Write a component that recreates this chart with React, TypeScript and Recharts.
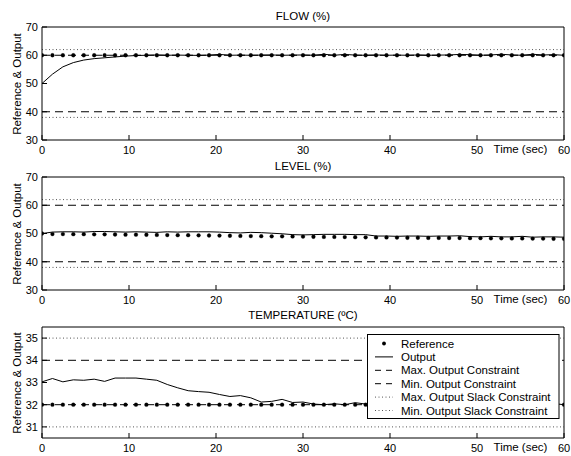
import React from 'react';
import { LineChart, Line, XAxis, YAxis, ReferenceLine, Legend } from 'recharts';

const FONT = '"Liberation Sans", Arial, Helvetica, sans-serif';

// sample times (sec)
const time = [
  0, 1.2, 2.4, 3.6, 4.8, 6, 7.2, 8.4, 9.6, 10.8,
  12, 13.2, 14.4, 15.6, 16.8, 18, 19.2, 20.4, 21.6, 22.8,
  24, 25.2, 26.4, 27.6, 28.8, 30, 31.2, 32.4, 33.6, 34.8,
  36, 37.2, 38.4, 39.6, 40.8, 42, 43.2, 44.4, 45.6, 46.8,
  48, 49.2, 50.4, 51.6, 52.8, 54, 55.2, 56.4, 57.6, 58.8,
  60,
];

const xTicks = [0, 10, 20, 30, 40, 50, 60];
const pctTicks = [30, 40, 50, 60, 70];
const tempTicks = [31, 32, 33, 34, 35];

// FLOW (%)
const flowRef = [
  60, 60, 60, 60, 60, 60, 60, 60, 60, 60,
  60, 60, 60, 60, 60, 60, 60, 60, 60, 60,
  60, 60, 60, 60, 60, 60, 60, 60, 60, 60,
  60, 60, 60, 60, 60, 60, 60, 60, 60, 60,
  60, 60, 60, 60, 60, 60, 60, 60, 60, 60,
  60,
];
const flowOut = [
  50.0, 53.3, 55.9, 57.4, 58.3, 58.8, 59.1, 59.4, 59.7, 59.9,
  60.0, 60.1, 60.0, 60.05, 60.0, 59.95, 60.05, 60.3, 60.0, 60.05,
  60.0, 60.05, 60.1, 60.0, 60.05, 60.1, 60.0, 60.35, 60.0, 60.3,
  60.05, 60.0, 60.1, 60.0, 60.05, 60.0, 60.1, 60.0, 60.05, 60.1,
  60.3, 60.2, 60.0, 60.1, 60.35, 60.1, 60.0, 60.35, 60.1, 60.2,
  60.0,
];
// [max, min, max slack, min slack]
const flowLimits = [60, 40, 62, 38];

// LEVEL (%)
const levelRef = [
  50.0, 49.8, 49.8, 49.75, 49.75, 49.7, 49.7, 49.65, 49.6, 49.6,
  49.55, 49.5, 49.45, 49.4, 49.4, 49.35, 49.3, 49.25, 49.2, 49.15,
  49.1, 49.05, 49.0, 49.0, 48.95, 48.9, 48.85, 48.8, 48.8, 48.75,
  48.7, 48.65, 48.6, 48.6, 48.55, 48.5, 48.5, 48.45, 48.45, 48.4,
  48.4, 48.35, 48.35, 48.3, 48.3, 48.25, 48.25, 48.2, 48.2, 48.15,
  48.1,
];
const levelOut = [
  50.0, 50.5, 50.6, 50.6, 50.5, 50.7, 50.7, 50.6, 50.5, 50.6,
  50.5, 50.4, 50.6, 50.5, 50.6, 50.6, 50.6, 50.5, 50.3, 50.2,
  50.4, 50.3, 50.1, 49.9, 49.6, 49.5, 49.6, 49.7, 49.7, 49.7,
  49.6, 49.6, 49.1, 49.1, 49.0, 49.1, 49.1, 49.0, 49.1, 49.1,
  49.2, 48.9, 48.8, 49.0, 48.8, 48.8, 49.0, 48.7, 48.8, 48.8,
  48.7,
];
const levelLimits = [60, 40, 62, 38];

// TEMPERATURE (ºC)
const tempRef = [
  32, 32, 32, 32, 32, 32, 32, 32, 32, 32,
  32, 32, 32, 32, 32, 32, 32, 32, 32, 32,
  32, 32, 32, 32, 32, 32, 32, 32, 32, 32,
  32, 32, 32, 32, 32, 32, 32, 32, 32, 32,
  32, 32, 32, 32, 32, 32, 32, 32, 32, 32,
  32,
];
const tempOut = [
  33.03, 33.18, 33.03, 33.12, 33.1, 33.15, 33.05, 33.2, 33.2, 33.2,
  33.15, 33.1, 32.91, 32.76, 32.63, 32.59, 32.56, 32.46, 32.37, 32.41,
  32.31, 32.12, 32.15, 32.24, 32.1, 32.12, 32.03, 32.0, 32.04, 32.0,
  32.09, 32.03, 32.05, 32.0, 32.08, 32.02, 32.06, 32.0, 32.04, 32.07,
  32.01, 32.05, 32.0, 32.06, 32.03, 32.0, 32.05, 32.02, 32.06, 32.05,
  32.0,
];
const tempLimits = [34, 32, 35, 31];

const legendLabels = [
  'Reference',
  'Output',
  'Max. Output Constraint',
  'Min. Output Constraint',
  'Max. Output Slack Constraint',
  'Min. Output Slack Constraint',
];

const DASH = '8 5';
const DOT = '1 2.5';

const build = (ref: number[], out: number[]) =>
  time.map((t, i) => ({ t, ref: ref[i], out: out[i] }));

const TimeLabel = (props: any) => {
  const vb = props.viewBox || { x: 42, y: 140, width: 522, height: 20 };
  return (
    <text
      x={vb.x + (vb.width * 55) / 60}
      y={vb.y + 12.5}
      textAnchor="middle"
      fill="#000"
      fontSize={11.5}
      fontFamily={FONT}
    >
      Time (sec)
    </text>
  );
};

const YLabel = (props: any) => {
  const vb = props.viewBox || { x: 0, y: 27, width: 42, height: 113 };
  const cy = vb.y + vb.height / 2 + 0.5;
  const x = 20.5;
  return (
    <text
      x={x}
      y={cy}
      transform={`rotate(-90 ${x} ${cy})`}
      textAnchor="middle"
      fill="#000"
      fontSize={11.5}
      fontFamily={FONT}
    >
      {'Reference & Output'}
    </text>
  );
};

const LegendBox = () => {
  const styles = [
    { kind: 'dot' },
    { kind: 'line', dash: undefined, color: '#000' },
    { kind: 'line', dash: '6 5', color: '#000' },
    { kind: 'line', dash: '6 5', color: '#000' },
    { kind: 'line', dash: DOT, color: '#555' },
    { kind: 'line', dash: DOT, color: '#555' },
  ];
  return (
    <svg width={193} height={85} style={{ display: 'block' }}>
      <rect x={0.5} y={0.5} width={191.5} height={84} fill="#fff" stroke="#000" strokeWidth={1} />
      {legendLabels.map((label, i) => {
        const y = 9.5 + i * 13.4;
        const s: any = styles[i];
        return (
          <g key={label}>
            {s.kind === 'dot' ? (
              <circle cx={17} cy={y} r={1.9} fill="#000" />
            ) : (
              <line x1={8} x2={26} y1={y} y2={y} stroke={s.color} strokeDasharray={s.dash} strokeWidth={1} />
            )}
            <text x={34} y={y + 4} fill="#000" fontSize={11.5} fontFamily={FONT}>
              {label}
            </text>
          </g>
        );
      })}
    </svg>
  );
};

type PanelProps = {
  data: any[];
  title: string;
  titleOffset: number;
  domain: [number, number];
  yTicks: number[];
  limits: number[];
  top: number;
  height: number;
  axisHeight: number;
  legend?: boolean;
};

const tickStyle = { fill: '#000', fontSize: 11, fontFamily: FONT };

const Panel = ({ data, title, titleOffset, domain, yTicks, limits, top, height, axisHeight, legend }: PanelProps) => (
  <div style={{ position: 'absolute', left: 0, top, width: 571, height }}>
    <LineChart width={571} height={height} data={data} margin={{ top: 26, right: 6, bottom: 0, left: 0 }}>
      <XAxis
        xAxisId="b"
        dataKey="t"
        type="number"
        domain={[0, 60]}
        ticks={xTicks}
        interval={0}
        allowDataOverflow
        orientation="bottom"
        height={axisHeight}
        stroke="#000"
        tickSize={-5}
        tickMargin={11.5}
        tick={tickStyle}
        label={<TimeLabel />}
      />
      <XAxis
        xAxisId="t"
        dataKey="t"
        type="number"
        domain={[0, 60]}
        ticks={xTicks}
        interval={0}
        allowDataOverflow
        orientation="top"
        height={1}
        stroke="#000"
        tickSize={-5}
        tick={false}
        label={{ value: title, position: 'top', offset: titleOffset, fill: '#000', fontSize: 11.5, fontFamily: FONT }}
      />
      <YAxis
        yAxisId="l"
        type="number"
        domain={domain}
        ticks={yTicks}
        interval={0}
        allowDataOverflow
        width={42}
        stroke="#000"
        tickSize={-5}
        tickMargin={9}
        tick={tickStyle}
        label={<YLabel />}
      />
      <YAxis
        yAxisId="r"
        orientation="right"
        type="number"
        domain={domain}
        ticks={yTicks}
        interval={0}
        allowDataOverflow
        width={1}
        stroke="#000"
        tickSize={-5}
        tick={false}
      />
      <ReferenceLine xAxisId="b" yAxisId="l" y={limits[2]} stroke="#555" strokeDasharray={DOT} />
      <ReferenceLine xAxisId="b" yAxisId="l" y={limits[3]} stroke="#555" strokeDasharray={DOT} />
      <ReferenceLine xAxisId="b" yAxisId="l" y={limits[0]} stroke="#000" strokeDasharray={DASH} />
      <ReferenceLine xAxisId="b" yAxisId="l" y={limits[1]} stroke="#000" strokeDasharray={DASH} />
      <Line
        xAxisId="b"
        yAxisId="l"
        type="linear"
        dataKey="out"
        stroke="#000"
        strokeWidth={1}
        dot={false}
        activeDot={false}
        isAnimationActive={false}
      />
      <Line
        xAxisId="b"
        yAxisId="l"
        type="linear"
        dataKey="ref"
        stroke="none"
        dot={{ r: 1.9, fill: '#000', stroke: '#000', strokeWidth: 0.3 }}
        activeDot={false}
        isAnimationActive={false}
      />
      {legend && (
        <Legend
          layout="vertical"
          align="center"
          verticalAlign="middle"
          wrapperStyle={{ left: 367, top: 34, width: 193, height: 85, lineHeight: 'normal' }}
          content={() => <LegendBox />}
        />
      )}
    </LineChart>
  </div>
);

export default function App() {
  return (
    <div
      style={{
        position: 'absolute',
        left: 0,
        top: 0,
        width: 571,
        height: 456,
        overflow: 'hidden',
        background: '#fff',
        fontFamily: FONT,
      }}
    >
      <Panel
        data={build(flowRef, flowOut)}
        title="FLOW (%)"
        titleOffset={6.5}
        domain={[30, 70]}
        yTicks={pctTicks}
        limits={flowLimits}
        top={0}
        height={160}
        axisHeight={20}
      />
      <Panel
        data={build(levelRef, levelOut)}
        title="LEVEL (%)"
        titleOffset={6.5}
        domain={[30, 70]}
        yTicks={pctTicks}
        limits={levelLimits}
        top={150}
        height={160}
        axisHeight={20}
      />
      <Panel
        data={build(tempRef, tempOut)}
        title="TEMPERATURE (ºC)"
        titleOffset={7}
        domain={[30.5, 35.5]}
        yTicks={tempTicks}
        limits={tempLimits}
        top={300}
        height={156}
        axisHeight={18}
        legend
      />
    </div>
  );
}
